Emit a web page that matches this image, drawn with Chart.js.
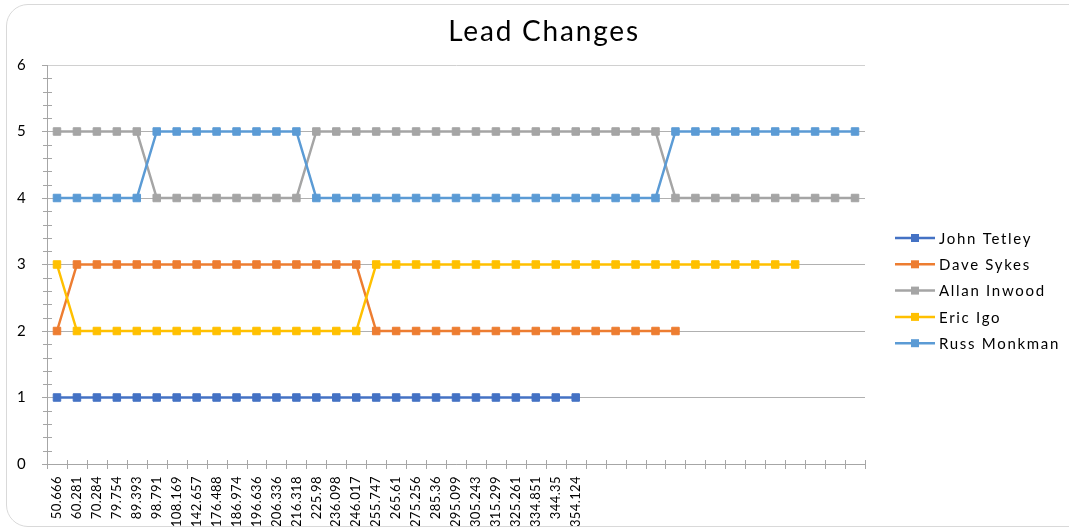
<!DOCTYPE html>
<html>
<head>
<meta charset="utf-8">
<script src="https://cdn.jsdelivr.net/npm/chart.js@4.4.1/dist/chart.umd.min.js"></script>
<style>
    html, body { margin: 0; padding: 0; background: #fff; overflow: hidden; }
    #wrap { position: relative; width: 1069px; height: 529px; overflow: hidden; }
    #frame { position: absolute; left: 6px; top: 4px; width: 1100px; height: 521px; border: 1px solid #d9d9d9; border-radius: 22px; pointer-events: none; }
    canvas { position: absolute; left: 0; top: 0; }
</style>
</head>
<body>
<div id="wrap">
    <canvas id="leadChart" width="1069" height="529"></canvas>
    <div id="frame"></div>
</div>
<script>
// Tick labels shown under the axis (only the first series' laps are labelled)
const lapLabels = ['50.666', '60.281', '70.284', '79.754', '89.393', '98.791', '108.169', '142.657', '176.488',
    '186.974', '196.636', '206.336', '216.318', '225.98', '236.098', '246.017', '255.747', '265.61',
    '275.256', '285.36', '295.099', '305.243', '315.299', '325.261', '334.851', '344.35', '354.124'];
const unlabelled = ['', '', '', '', '', '', '', '', '', '', '', '', '', ''];
const categories = lapLabels.concat(unlabelled);

const seriesNames = ['John Tetley', 'Dave Sykes', 'Allan Inwood', 'Eric Igo', 'Russ Monkman'];
const seriesColors = ['#4472C4', '#ED7D31', '#A5A5A5', '#FFC000', '#5B9BD5'];

const johnTetley = [1, 1, 1, 1, 1, 1, 1, 1, 1, 1, 1, 1, 1, 1, 1, 1, 1, 1, 1, 1, 1, 1, 1, 1, 1, 1, 1];
const daveSykes = [2, 3, 3, 3, 3, 3, 3, 3, 3, 3, 3, 3, 3, 3, 3, 3, 2, 2, 2, 2, 2, 2, 2, 2, 2, 2, 2, 2, 2, 2, 2, 2];
const allanInwood = [5, 5, 5, 5, 5, 4, 4, 4, 4, 4, 4, 4, 4, 5, 5, 5, 5, 5, 5, 5, 5, 5, 5, 5, 5, 5, 5, 5, 5, 5, 5,
    4, 4, 4, 4, 4, 4, 4, 4, 4, 4];
const ericIgo = [3, 2, 2, 2, 2, 2, 2, 2, 2, 2, 2, 2, 2, 2, 2, 2, 3, 3, 3, 3, 3, 3, 3, 3, 3, 3, 3, 3, 3, 3, 3, 3,
    3, 3, 3, 3, 3, 3];
const russMonkman = [4, 4, 4, 4, 4, 5, 5, 5, 5, 5, 5, 5, 5, 4, 4, 4, 4, 4, 4, 4, 4, 4, 4, 4, 4, 4, 4, 4, 4, 4, 4,
    5, 5, 5, 5, 5, 5, 5, 5, 5, 5];

const seriesData = [johnTetley, daveSykes, allanInwood, ericIgo, russMonkman];
const yTicks = [0, 1, 2, 3, 4, 5, 6];

const FONT = "Lato, 'Open Sans', sans-serif";
const AXIS_GREY = '#a6a6a6';

// Excel-style extras: title, minor ticks, tick marks between categories, legend
const excelBits = {
    id: 'excelBits',
    beforeDraw(chart) {
        chart.ctx.letterSpacing = '0.4px';
    },
    beforeDatasetsDraw(chart) {
        const { ctx, chartArea: a, scales: { x, y } } = chart;
        ctx.save();
        ctx.strokeStyle = AXIS_GREY;
        ctx.lineWidth = 1;
        ctx.beginPath();
        // minor ticks on value axis (5 per unit)
        for (let v = 0; v < 6; v++) {
            for (let k = 1; k < 5; k++) {
                const py = Math.round(y.getPixelForValue(v + k / 5)) + 0.5;
                ctx.moveTo(a.left - 4, py);
                ctx.lineTo(a.left + 5, py);
            }
        }
        // tick marks between categories
        const step = x.getPixelForValue(1) - x.getPixelForValue(0);
        for (let i = 0; i <= categories.length; i++) {
            const px = Math.round(x.getPixelForValue(i) - step / 2) + 0.5;
            ctx.moveTo(px, a.bottom - 4);
            ctx.lineTo(px, a.bottom + 5);
        }
        ctx.stroke();
        ctx.restore();
    },
    afterDraw(chart) {
        const ctx = chart.ctx;
        ctx.save();
        // title
        ctx.fillStyle = '#000';
        ctx.letterSpacing = '1.8px';
        ctx.font = "28px " + FONT;
        ctx.textAlign = 'center';
        ctx.textBaseline = 'middle';
        ctx.fillText('Lead Changes', 544, 32);

        // legend
        ctx.font = "15px " + FONT;
        ctx.textAlign = 'left';
        ctx.letterSpacing = '1.7px';
        chart.data.datasets.forEach((ds, i) => {
            const cy = 238 + i * 26.3;
            ctx.strokeStyle = ds.borderColor;
            ctx.lineWidth = 2.5;
            ctx.beginPath();
            ctx.moveTo(895, cy);
            ctx.lineTo(935, cy);
            ctx.stroke();
            ctx.fillStyle = ds.borderColor;
            ctx.fillRect(911, cy - 4, 8, 8);
            ctx.fillStyle = '#000';
            ctx.fillText(ds.label, 939, cy + 1);
        });
        ctx.restore();
    }
};

new Chart(document.getElementById('leadChart'), {
    type: 'line',
    data: {
        labels: categories,
        datasets: seriesNames.map((name, i) => ({
            label: name,
            data: seriesData[i],
            borderColor: seriesColors[i],
            backgroundColor: seriesColors[i],
            borderWidth: 2.5,
            pointStyle: 'rect',
            pointRadius: 5.3,
            pointBorderWidth: 1,
            pointBorderColor: seriesColors[i],
            pointBackgroundColor: seriesColors[i],
            tension: 0,
            fill: false,
            order: 5 - i
        }))
    },
    options: {
        responsive: false,
        animation: false,
        layout: { padding: { top: 65, right: 204, bottom: 0, left: 0 } },
        plugins: {
            legend: { display: false },
            title: { display: false },
            tooltip: { enabled: false }
        },
        scales: {
            x: {
                type: 'category',
                offset: true,
                grid: { display: false },
                border: { display: true, color: AXIS_GREY, width: 1 },
                ticks: {
                    autoSkip: false,
                    minRotation: 90,
                    maxRotation: 90,
                    padding: 4,
                    color: '#000',
                    font: { family: FONT, size: 13 }
                },
                afterFit(scale) { scale.height = 65; }
            },
            y: {
                min: 0,
                max: 6,
                afterBuildTicks(scale) { scale.ticks = yTicks.map(v => ({ value: v })); },
                grid: {
                    color: ctx => ctx.tick && ctx.tick.value === 6 ? '#d0d0d0' : '#b0b0b0',
                    tickLength: 5,
                    tickColor: AXIS_GREY
                },
                border: { display: true, color: AXIS_GREY, width: 1 },
                ticks: {
                    padding: 16,
                    color: '#000',
                    font: { family: FONT, size: 15 }
                },
                afterFit(scale) { scale.width = 47; }
            }
        }
    },
    plugins: [excelBits]
});
</script>
</body>
</html>
